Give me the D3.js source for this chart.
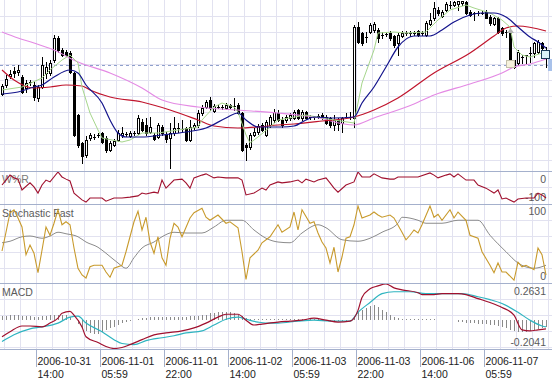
<!DOCTYPE html>
<html><head><meta charset="utf-8">
<script src="https://cdn.jsdelivr.net/npm/d3@7/dist/d3.min.js"></script>
<style>html,body{margin:0;padding:0;background:#fff;overflow:hidden}svg{display:block}</style>
</head><body><svg id="c" width="552" height="383"></svg>
<script>
// ---------- DATA (prices in pips above 117.00) ----------
const open  = [76,85,94,99,98,93,82,88,85,72,83,97,97,110,132,120,118,117,97,55,27,15,32,33,35,37,32,20,25,30,35,36,34,37,37,48,45,38,35,33,43,35,32,37,42,41,42,30,43,45,57,63,70,59,63,63,62,65,64,65,57,25,23,35,38,45,35,45,50,57,50,50,52,52,60,52,58,53,53,54,55,53,52,45,50,47,53,53,52,143,137,133,138,140,140,135,136,137,134,127,134,137,137,137,139,137,135,146,152,160,154,160,165,165,166,167,168,158,157,157,157,158,153,146,152,142,138,138,103,107,113,115,117,117,118,127,120];
const high  = [86,95,100,103,105,95,90,90,88,85,113,108,110,135,134,122,120,119,98,56,28,34,37,36,37,38,34,29,31,40,43,38,39,39,55,51,52,53,37,47,45,38,47,53,47,50,43,50,47,60,65,70,73,66,65,65,67,66,72,67,58,27,37,42,46,47,50,55,61,60,53,55,57,60,61,60,59,55,54,56,57,55,53,55,52,53,57,58,145,148,138,138,147,148,142,138,138,139,135,137,139,139,139,139,140,139,149,157,168,163,160,168,170,170,170,170,170,160,158,159,159,160,155,153,153,143,140,142,110,120,115,115,123,128,130,128,123];
const low   = [75,83,92,93,95,77,78,85,70,69,82,92,95,108,118,114,114,97,34,23,7,13,30,31,33,27,18,19,24,29,33,34,33,35,36,39,35,37,30,32,35,28,2,35,38,39,29,29,41,43,55,62,60,58,62,61,61,62,60,56,19,10,21,34,36,39,34,43,48,49,43,48,50,51,51,50,51,51,51,52,51,46,43,40,40,38,52,51,43,127,125,128,137,138,128,132,134,130,123,115,133,135,134,135,134,135,134,145,150,155,153,159,162,164,160,165,156,154,150,155,156,152,145,145,137,135,133,108,102,105,107,107,108,113,117,120,102];
const close = [84,91,96,97,100,78,87,88,73,83,105,103,107,132,120,115,115,98,35,25,14,30,35,33,35,28,20,27,29,37,37,36,37,37,52,40,37,43,31,45,37,31,37,42,42,41,30,43,45,57,62,68,62,64,63,63,65,63,64,57,20,23,35,38,44,40,48,53,58,50,45,53,55,58,52,58,52,53,53,54,52,47,45,50,46,52,53,53,143,128,127,133,145,146,132,135,136,132,125,135,137,137,137,137,135,137,147,150,162,157,158,166,165,168,169,169,157,155,157,157,157,152,147,152,138,137,138,110,110,118,113,115,117,127,128,122,112];
const bidPrice = 105;

const pinkBars = [0,4,8,13,19,27,35,40,49,59,69,78,88,93,103,108,117,125,128,132,136];
const pinkVals = [138,132,127,120,108,97,82,70,63,60,57,53,45,52,66,75,86,97,103,106,111];
const redBars  = [0,3,8,12,16,20,22,27,35,42,49,53,59,64,69,73,80,88,93,99,108,117,123,126,129,136];
const redVals  = [100,90,82,83,85,84,80,73,68,60,50,44,42,43,45,46,49,53,60,72,97,117,134,142,144,139];
const blueBars = [0,4,8,10,13,17,19,21,25,27,29,31,35,40,46,51,56,59,61,64,70,73,76,78,83,88,90,93,96,99,103,107,110,113,117,120,123,126,129,132,134,136];
const blueVals = [76,78,83,85,93,100,97,85,67,50,37,33,33,35,38,42,52,57,50,43,43,44,50,53,52,53,67,83,103,123,134,134,140,148,155,157,157,153,143,133,128,122];
const greenBars = [0,5,10,12,15,17,19,20,22,24,25,30,32,35,39,44,49,50,53,55,58,59,61,62,64,67,69,76,83,88,90,93,94,98,101,106,109,112,116,118,122,125,127,128,130,132,135,136];
const greenVals = [80,83,92,100,110,115,107,83,57,40,32,28,30,37,37,40,43,50,63,67,63,58,35,27,33,43,50,55,50,47,87,120,137,138,137,138,150,160,165,162,157,150,143,123,115,113,117,113];

const wprBars = [0,1,2,3,4,5,7,8,9,10,11,12,14,15,16,17,18,20,21,22,23,25,26,28,30,32,34,35,36,38,39,40,41,43,45,46,47,48,50,51,53,54,56,59,60,61,63,65,66,67,69,70,72,74,75,76,78,79,81,82,83,84,86,88,89,90,92,93,95,97,98,99,102,104,107,108,109,111,112,113,114,116,118,119,121,123,124,125,126,128,129,131,133,134,135,136];
const wprVals = [-42,-26,-10,-19,-23,-58,-35,-48,-68,-42,-26,-32,0,-16,-23,-29,-68,-90,-97,-84,-84,-84,-94,-84,-84,-81,-77,-68,-71,-65,-68,-26,-52,-26,-23,-35,-52,-19,-10,-6,-19,-16,-19,-19,-26,-74,-68,-52,-58,-42,-32,-35,-32,-26,-35,-23,-32,-26,-19,-35,-52,-65,-42,-32,0,-16,-16,-6,-19,-23,-23,-16,-16,-16,-3,-10,-19,-10,-6,-16,-6,-26,-26,-42,-52,-68,-58,-87,-84,-97,-87,-84,-84,-68,-74,-84];

const stoKBars = [0,1,2,3,4,5,6,7,8,9,10,11,12,13,14,15,16,17,18,19,20,21,22,23,25,26,27,28,30,31,33,34,35,36,37,38,39,40,41,42,43,44,45,47,48,50,51,52,54,56,57,59,60,61,62,64,65,67,69,70,72,73,74,75,77,78,79,80,81,82,83,84,85,86,87,88,89,90,92,93,94,95,97,98,100,101,102,103,104,105,107,108,109,110,112,113,114,116,117,119,120,122,123,124,125,126,128,129,130,131,133,134,135,136];
const stoKVals = [40,65,91,95,84,72,35,48,37,11,41,72,61,77,95,75,79,75,44,17,8,4,19,21,21,12,5,17,21,39,79,93,68,85,52,37,59,31,21,57,77,72,59,84,91,97,85,81,88,77,79,71,39,2,31,41,51,59,75,65,72,92,68,95,77,79,64,52,44,24,45,12,32,57,59,75,100,84,88,92,88,85,88,84,65,55,61,68,64,75,100,85,89,81,95,84,92,81,61,57,39,21,11,24,12,12,1,25,19,21,15,44,35,8];
const stoDBars = [0,2,5,7,10,12,14,16,19,21,24,26,29,31,33,35,38,40,43,46,50,53,56,60,63,66,69,72,75,79,81,85,89,92,95,99,100,104,106,110,114,119,122,126,129,133,136];
const stoDVals = [51,53,59,60,57,60,65,63,59,52,45,37,24,17,31,44,52,59,65,64,64,72,81,81,68,57,52,51,64,75,71,55,53,57,65,77,85,81,77,77,81,81,61,39,24,17,21];

const macdBars = [0,2,5,7,10,12,14,15,17,18,20,21,24,26,28,30,32,35,38,41,45,48,51,54,56,59,61,63,65,69,72,75,78,81,84,87,89,90,92,94,96,98,100,104,105,108,110,114,116,119,122,125,128,130,132,134,136];
const macdVals = [-0.119,-0.083,-0.041,-0.041,-0.048,-0.020,0.016,0.051,0.065,0.037,-0.048,-0.119,-0.161,-0.190,-0.204,-0.197,-0.176,-0.140,-0.105,-0.091,-0.076,-0.055,-0.020,0.023,0.044,0.044,0.001,-0.034,-0.027,-0.013,-0.006,0.001,0.016,0.001,-0.013,-0.006,0.072,0.165,0.228,0.249,0.263,0.235,0.221,0.200,0.186,0.186,0.193,0.193,0.186,0.157,0.129,0.093,0.037,-0.069,-0.076,-0.069,-0.062];
const signalBars = [0,3,7,10,14,17,19,21,25,28,30,33,36,40,43,46,50,53,56,59,61,64,66,69,74,78,82,87,89,92,95,98,102,106,110,115,119,122,125,129,132,135,136];
const signalVals = [-0.154,-0.105,-0.062,-0.048,-0.020,0.023,0.030,-0.020,-0.083,-0.140,-0.168,-0.176,-0.147,-0.126,-0.112,-0.091,-0.076,-0.034,0.008,0.023,0.008,-0.013,-0.020,-0.020,-0.006,0.001,-0.006,-0.006,0.058,0.129,0.193,0.207,0.207,0.193,0.193,0.193,0.171,0.150,0.122,0.058,0.001,-0.041,-0.048];
const histVals = [0.028,0.028,0.035,0.035,0.035,0.028,0.028,0.028,0.021,0.021,0.028,0.028,0.035,0.042,
 0.042,0.042,0.035,0.021,0,
 -0.028,-0.057,-0.078,-0.092,-0.099,-0.099,-0.085,-0.071,-0.057,-0.050,-0.035,-0.021,-0.014,-0.007,0,
 0.007,0.014,0.014,0.021,0.021,0.021,0.021,0.021,0.021,0.021,0.021,0.021,0.021,0.028,0.028,0.028,0.035,0.042,0.050,0.050,0.057,0.057,0.057,0.057,0.050,0.042,0.028,0.014,0.007,
 0.002,0.002,0.002,0.002,0.002,0.002,0.002,0.002,0.002,0.002,
 0.004,0.004,0.004,0.004,0.004,0.004,0.004,0.004,
 -0.004,-0.004,-0.004,-0.004,-0.004,-0.004,-0.004,
 0.028,0.057,0.078,0.092,0.106,0.113,0.099,0.078,0.057,0.035,0.021,0.014,0.007,
 0.005,0.005,0.005,0.005,0.005,0.005,0.005,0.005,
 0,0,0,0,0,
 -0.014,-0.014,-0.021,-0.021,-0.021,-0.028,-0.028,-0.028,-0.035,-0.035,-0.042,-0.050,-0.057,-0.071,-0.078,-0.085,-0.085,-0.085,-0.078,-0.071,-0.064,-0.057,-0.050];

const wprRange = [-100, 0];
const stoRange = [0, 100];
const macdRange = [-0.2041, 0.2631];
const tickBars  = [9,25,41,57,73,89,105,121];
const tickDates = ["2006-10-31","2006-11-01","2006-11-01","2006-11-02","2006-11-03","2006-11-03","2006-11-06","2006-11-07"];
const tickTimes = ["14:00","05:59","22:00","14:00","05:59","22:00","14:00","05:59"];
const markerBar = 127, markerTop = 142, markerBoxLo = 103, markerBoxHi = 110;

// ---------- LAYOUT ----------
const svg = d3.select('#c');
const FONT = '"Liberation Sans", Arial, sans-serif';
const x = d3.scaleLinear().domain([0, 138]).range([0, 552]);
const cx = i => x(i) + 2;
const P = {main:[0,171], wpr:[171,204], sto:[204,283], macd:[283,349]};
const yMain = d3.scaleLinear().domain([0,170]).range([170,0]);
const yW = d3.scaleLinear().domain(wprRange).range([203,172]);
const yS = d3.scaleLinear().domain(stoRange).range([281,206]);
const yM = d3.scaleLinear().domain(macdRange).range([348.5,284]);
const zip = (b,v) => b.map((d,k)=>[d,v[k]]);

const defs = svg.append('defs');
Object.entries(P).forEach(([k,[t,b]])=>{
  defs.append('clipPath').attr('id','clip-'+k).append('rect').attr('x',0).attr('y',t+1).attr('width',552).attr('height',b-t-1);
});

// grid
const grid = svg.append('g').attr('shape-rendering','crispEdges');
d3.range(1,138,4).forEach(i=>{
  grid.append('line').attr('x1',x(i)+0.5).attr('x2',x(i)+0.5).attr('y1',0).attr('y2',349).attr('stroke','#e2e2f0');
});
Object.values(P).forEach(([t,b])=>{
  for(let y=t+16;y<b-1;y+=16){
    grid.append('line').attr('x1',0).attr('x2',552).attr('y1',y+0.5).attr('y2',y+0.5).attr('stroke','#e2e2f0');
  }
});
[171,204,283,349].forEach(y=>{
  grid.append('line').attr('x1',0).attr('x2',552).attr('y1',y+0.5).attr('y2',y+0.5).attr('stroke','#a4b0cc');
});
tickBars.forEach(b=>{
  grid.append('line').attr('x1',x(b)+0.5).attr('x2',x(b)+0.5).attr('y1',349).attr('y2',367).attr('stroke','#a4b0cc');
});

// x labels
const xl = svg.append('g').attr('font-family',FONT).attr('font-size','10.5px').attr('fill','#222');
tickBars.forEach((b,k)=>{
  xl.append('text').attr('x',x(b)+1.5).attr('y',365).text(tickDates[k]);
  xl.append('text').attr('x',x(b)+1.5).attr('y',378).text(tickTimes[k]);
});

// ---------- MAIN PANEL ----------
const gMain = svg.append('g').attr('clip-path','url(#clip-main)');
gMain.append('line').attr('x1',0).attr('x2',552)
  .attr('y1',Math.round(yMain(bidPrice))+0.5).attr('y2',Math.round(yMain(bidPrice))+0.5)
  .attr('stroke','#8fa0cc').attr('stroke-dasharray','3,3');

const gc = gMain.append('g').attr('shape-rendering','crispEdges');
open.forEach((o,i)=>{
  if(i===open.length-1) return;
  const c = close[i], xc = cx(i);
  const yH = Math.round(yMain(high[i])), yL = Math.round(yMain(low[i]));
  gc.append('line').attr('x1',xc+0.5).attr('x2',xc+0.5).attr('y1',yH).attr('y2',yL+1).attr('stroke','#000');
  const yt = Math.round(yMain(Math.max(o,c))), yb = Math.round(yMain(Math.min(o,c)));
  if(yb-yt<1){
    gc.append('line').attr('x1',xc-1).attr('x2',xc+2).attr('y1',yt+0.5).attr('y2',yt+0.5).attr('stroke','#000');
  } else {
    gc.append('rect').attr('x',xc-0.5).attr('y',yt+0.5).attr('width',2).attr('height',yb-yt)
      .attr('fill', c>o ? '#fff' : '#000').attr('stroke','#000');
  }
});

const lineMain = d3.line().x(d=>cx(d[0])).y(d=>yMain(d[1]));
const lineMainS = d3.line().x(d=>cx(d[0])).y(d=>yMain(d[1])).curve(d3.curveMonotoneX);
gMain.append('path').attr('d',lineMainS(zip(pinkBars,pinkVals))).attr('fill','none').attr('stroke','#e48ae4').attr('stroke-width',1.1);
gMain.append('path').attr('d',lineMainS(zip(redBars,redVals))).attr('fill','none').attr('stroke','#c0142c').attr('stroke-width',1.2);
gMain.append('path').attr('d',lineMain(zip(greenBars,greenVals))).attr('fill','none').attr('stroke','#a6d68c').attr('stroke-width',1);
gMain.append('path').attr('d',lineMainS(zip(blueBars,blueVals))).attr('fill','none').attr('stroke','#14148c').attr('stroke-width',1.2);

// markers
const mx = cx(markerBar);
gMain.append('path').attr('d',`M${mx-3},${yMain(markerTop)+5}L${mx+0.5},${yMain(markerTop)}L${mx+4},${yMain(markerTop)+5}Z`).attr('fill','#b4b4b4');
gMain.append('rect').attr('x',mx-3.5).attr('y',Math.round(yMain(markerBoxHi))+0.5).attr('width',8)
  .attr('height',Math.round(yMain(markerBoxLo))-Math.round(yMain(markerBoxHi))).attr('fill','#f6f2dc').attr('stroke','#c4c0aa').attr('shape-rendering','crispEdges');
// last (current) candle highlighted
{
  const i = open.length-1, xc = cx(i);
  gMain.append('line').attr('x1',xc+0.5).attr('x2',xc+0.5).attr('y1',yMain(high[i])).attr('y2',yMain(low[i])).attr('stroke','#000').attr('shape-rendering','crispEdges');
  const yt = Math.round(yMain(Math.max(open[i],close[i]))), yb = Math.round(yMain(Math.min(open[i],close[i])));
  gMain.append('rect').attr('x',xc-4.5).attr('y',yt+0.5).attr('width',8).attr('height',yb-yt)
    .attr('fill','#dcf4f8').attr('stroke','#1c3c58').attr('shape-rendering','crispEdges');
}
// price label at right edge
svg.append('rect').attr('x',548).attr('y',Math.round(yMain(bidPrice))-6).attr('width',6).attr('height',12).attr('fill','#a9c2ea');

// ---------- LABELS ----------
const lab = svg.append('g').attr('font-family',FONT).attr('font-size','10.5px').attr('fill','#5a5a5a');
lab.append('text').attr('x',2).attr('y',183).text('W%R').attr('fill','#7a7a7a');
lab.append('text').attr('x',2).attr('y',217).text('Stochastic Fast');
lab.append('text').attr('x',2).attr('y',296).text('MACD');
const rl = [[String(wprRange[1]),183],[String(wprRange[0]),201],[String(stoRange[1]),215],[String(stoRange[0]),280],
            [macdRange[1].toFixed(4),295],[macdRange[0].toFixed(4),346]];
rl.forEach(([t,y])=>lab.append('text').attr('x',546).attr('y',y).attr('text-anchor','end').text(t));

// ---------- WPR ----------
const gW = svg.append('g').attr('clip-path','url(#clip-wpr)');
gW.append('path').attr('d',d3.line().x(d=>cx(d[0])).y(d=>yW(d[1]))(zip(wprBars,wprVals)))
  .attr('fill','none').attr('stroke','#a0102e').attr('stroke-width',1.1);

// ---------- STOCHASTIC ----------
const gS = svg.append('g').attr('clip-path','url(#clip-sto)');
gS.append('path').attr('d',d3.line().x(d=>cx(d[0])).y(d=>yS(d[1])).curve(d3.curveMonotoneX)(zip(stoDBars,stoDVals)))
  .attr('fill','none').attr('stroke','#8c8c8c').attr('stroke-width',1);
gS.append('path').attr('d',d3.line().x(d=>cx(d[0])).y(d=>yS(d[1]))(zip(stoKBars,stoKVals)))
  .attr('fill','none').attr('stroke','#c89a2c').attr('stroke-width',1.1);

// ---------- MACD ----------
const gM = svg.append('g').attr('clip-path','url(#clip-macd)');
const y0 = Math.round(yM(0));
histVals.forEach((v,i)=>{
  let yv = Math.round(yM(v));
  if(yv===y0) yv = v>=0 ? y0-1 : y0+1;
  if(v===0) return;
  gM.append('line').attr('x1',cx(i)+0.5).attr('x2',cx(i)+0.5).attr('y1',y0).attr('y2',yv)
    .attr('stroke','#8a8a8a').attr('shape-rendering','crispEdges');
});
const lineM = d3.line().x(d=>cx(d[0])).y(d=>yM(d[1])).curve(d3.curveMonotoneX);
gM.append('path').attr('d',lineM(zip(signalBars,signalVals))).attr('fill','none').attr('stroke','#2eb4c0').attr('stroke-width',1.2);
gM.append('path').attr('d',lineM(zip(macdBars,macdVals))).attr('fill','none').attr('stroke','#a0102e').attr('stroke-width',1.2);
</script></body></html>
